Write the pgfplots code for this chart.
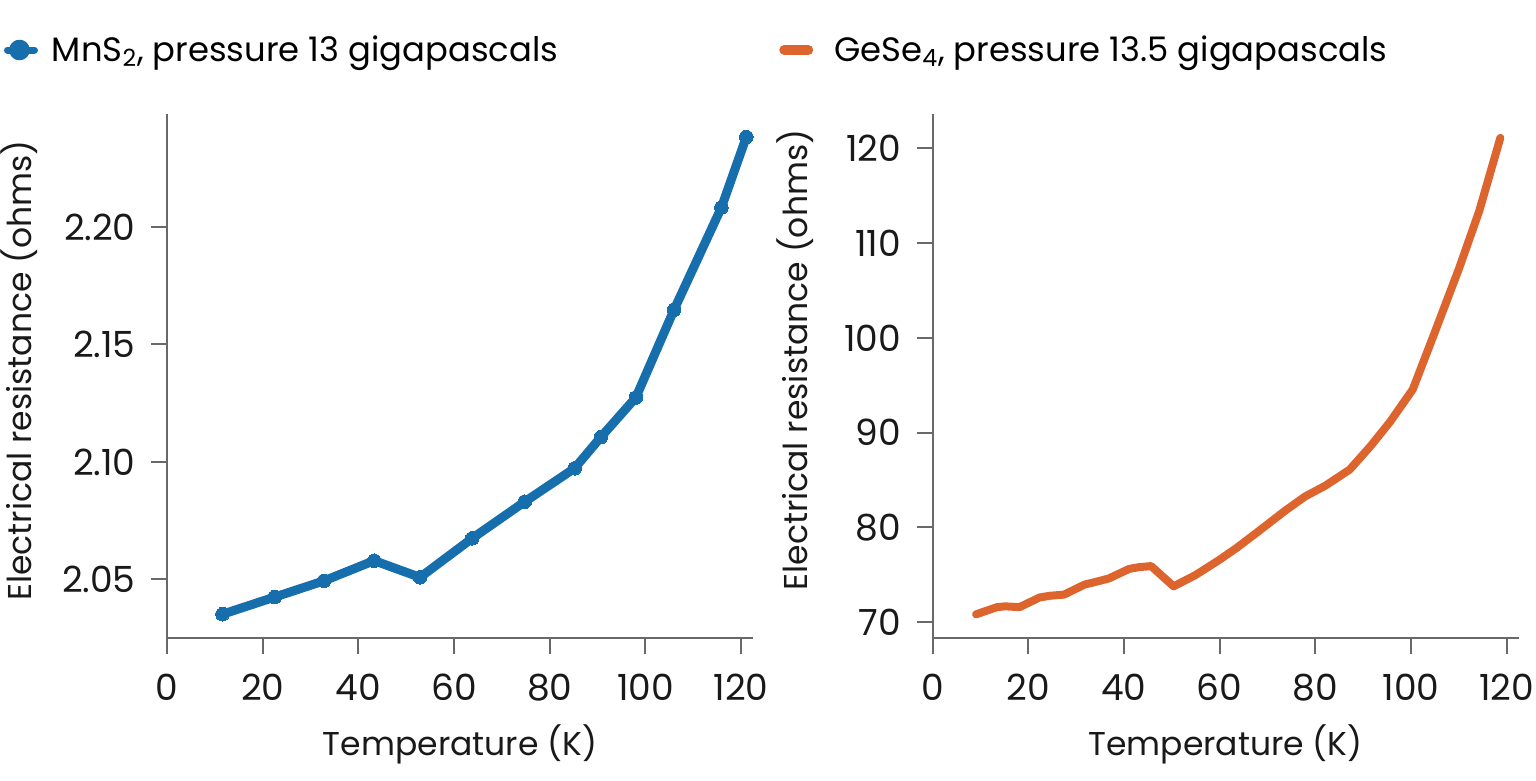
\documentclass[border=0pt]{standalone}
\usepackage{fontspec}
\setmainfont{Poppins}
\usepackage{pgfplots}
\pgfplotsset{compat=1.18}
\definecolor{cblue}{RGB}{22,110,172}
\definecolor{corange}{RGB}{222,100,46}
\definecolor{axgray}{RGB}{105,105,105}
\definecolor{txt}{RGB}{25,25,25}
\pgfplotstableread{
T R
11.6 2.0352
22.5 2.0425
32.8 2.0494
43.3 2.0580
52.9 2.0509
63.8 2.0675
74.8 2.0831
85.2 2.0973
90.7 2.1106
98.0 2.1274
106.0 2.1648
115.9 2.2083
121.1 2.2383
}\mns
\pgfplotstableread{
T R
9.1 70.82
13.5 71.58
15.2 71.66
18.2 71.58
22.4 72.60
24.6 72.78
27.5 72.90
31.8 73.96
33.9 74.22
36.8 74.59
41.1 75.61
43.2 75.80
45.7 75.91
50.4 73.77
55.0 74.97
59.7 76.48
63.5 77.80
67.7 79.41
73.7 81.75
77.9 83.26
82.1 84.39
87.2 86.09
91.5 88.53
95.7 91.17
100.4 94.56
105.0 100.59
110.1 107.36
114.3 113.40
118.7 121.10
}\gese
\begin{document}
\begin{tikzpicture}[x=1pt,y=1pt]
\useasboundingbox (-83.5,-71.4) rectangle (684.5,319.1);
\pgfplotsset{
  panel/.style={
    scale only axis, width=293pt, height=262pt,
    anchor=south west, clip=false,
    axis x line*=bottom, axis y line*=left,
    axis line style={axgray, line width=1pt},
    tick style={axgray, line width=1pt},
    tick align=outside, major tick length=8pt,
    xmin=0, xmax=122.5, xtick={0,20,...,120},
    font=\fontsize{16.5}{19}\selectfont\color{txt},
    tick label style={font=\fontsize{18}{21}\selectfont, text=txt},
    /pgf/number format/assume math mode=true,
    xticklabel style={anchor=base, inner sep=0pt, yshift=-23pt},
    yticklabel style={anchor=east, inner sep=0pt, xshift=-7.5pt},
    xlabel={Temperature (K)},
    ylabel={Electrical resistance (ohms)},
    xlabel style={at={(axis description cs:0.5,-0.2229)}, anchor=base, inner sep=0pt},
    legend style={draw=none, fill=none, inner sep=0pt, outer sep=0pt, anchor=west,
      nodes={inner sep=0pt}, font=\fontsize{16.9}{19}\selectfont},
    legend cell align=left,
  }
}
\begin{axis}[panel, at={(0pt,0pt)},
  ymin=2.025, ymax=2.248, ytick={2.05,2.10,2.15,2.20},
  yticklabel style={/pgf/number format/.cd, fixed, fixed zerofill, precision=2},
  ylabel style={at={(axis description cs:-0.2309,0.511)}, anchor=base, inner sep=0pt},
  legend style={at={(axis description cs:-0.2782,1.1225)},
    /tikz/every odd column/.append style={column sep=7pt}},
  legend image code/.code={\draw[cblue, line width=3.5pt, line cap=round] (0pt,0pt) -- (13.5pt,0pt); \fill[cblue] (6pt,0pt) circle (2.9pt);},
]
\addplot[cblue, line width=4.5pt, line join=round, line cap=round, mark=*, mark size=3.4pt, mark options={fill=cblue, draw=cblue, line width=0pt}] table[x=T,y=R] {\mns};
\addlegendentry{MnS\textsubscript{2}, pressure 13 gigapascals}
\end{axis}
\begin{axis}[panel, at={(382.75pt,0pt)},
  ymin=68.3, ymax=123.6, ytick={70,80,...,120},
  ylabel style={at={(axis description cs:-0.2138,0.531)}, anchor=base, inner sep=0pt},
  legend style={at={(axis description cs:-0.2615,1.1225)},
    /tikz/every odd column/.append style={column sep=10.5pt}},
  legend image code/.code={\draw[corange, line width=5pt, line cap=round] (0pt,0pt) -- (12pt,0pt);},
]
\addplot[corange, line width=4pt, line join=round, line cap=round] table[x=T,y=R] {\gese};
\addlegendentry{GeSe\textsubscript{4}, pressure 13.5 gigapascals}
\end{axis}
\end{tikzpicture}
\end{document}
